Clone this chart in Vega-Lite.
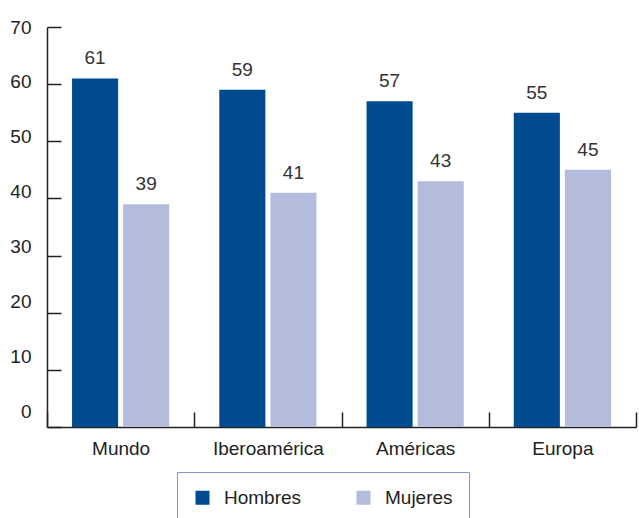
{
  "$schema": "https://vega.github.io/schema/vega-lite/v6.json",
  "width": 589,
  "height": 400,
  "autosize": {"type": "none"},
  "padding": {"left": 47, "top": 27, "right": 3, "bottom": 91},
  "background": "white",
  "config": {
    "view": {"stroke": null},
    "font": "Liberation Sans",
    "axis": {"labelFont": "Liberation Sans", "labelFontSize": 19, "labelColor": "#222", "domainColor": "#222", "tickColor": "#222", "grid": false, "title": null}
  },
  "data": {
    "values": [
      {"region": "Mundo", "sexo": "Hombres", "valor": 61},
      {"region": "Mundo", "sexo": "Mujeres", "valor": 39},
      {"region": "Iberoamérica", "sexo": "Hombres", "valor": 59},
      {"region": "Iberoamérica", "sexo": "Mujeres", "valor": 41},
      {"region": "Américas", "sexo": "Hombres", "valor": 57},
      {"region": "Américas", "sexo": "Mujeres", "valor": 43},
      {"region": "Europa", "sexo": "Hombres", "valor": 55},
      {"region": "Europa", "sexo": "Mujeres", "valor": 45}
    ]
  },
  "encoding": {
    "x": {
      "field": "region", "type": "nominal", "sort": null,
      "scale": {"paddingInner": 0, "paddingOuter": 0},
      "axis": {"labelAngle": 0, "tickBand": "extent", "tickSize": -15, "domainWidth": 1.5, "tickWidth": 1.5, "labelPadding": 27, "labelBaseline": "top"}
    },
    "xOffset": {"field": "sexo", "type": "nominal", "scale": {"paddingInner": 0.098, "paddingOuter": 0.49}},
    "y": {
      "field": "valor", "type": "quantitative",
      "scale": {"domain": [0, 70], "nice": false},
      "axis": {"values": [0, 10, 20, 30, 40, 50, 60, 70], "tickSize": -14, "domainWidth": 1.5, "tickWidth": 1.5, "labelPadding": 30, "labelOffset": {"expr": "-15.5 + 0.222 * datum.value"}}
    }
  },
  "layer": [
    {
      "mark": {"type": "bar"},
      "encoding": {
        "color": {
          "field": "sexo", "type": "nominal",
          "scale": {"domain": ["Hombres", "Mujeres"], "range": ["#004b8f", "#b3bcdc"]},
          "legend": {
            "title": null, "orient": "none", "direction": "horizontal",
            "legendX": 130, "legendY": 445,
            "strokeColor": "#7f9bc9", "padding": 16,
            "symbolType": "square", "symbolSize": 196, "symbolStrokeWidth": 0,
            "labelFont": "Liberation Sans", "labelFontSize": 19, "labelColor": "#222",
            "labelOffset": 12, "columnPadding": 52, "gridAlign": "each"
          }
        }
      }
    },
    {
      "mark": {"type": "text", "baseline": "alphabetic", "dy": -14, "fontSize": 19, "font": "Liberation Sans", "color": "#333"},
      "encoding": {"text": {"field": "valor", "type": "quantitative"}}
    }
  ]
}
